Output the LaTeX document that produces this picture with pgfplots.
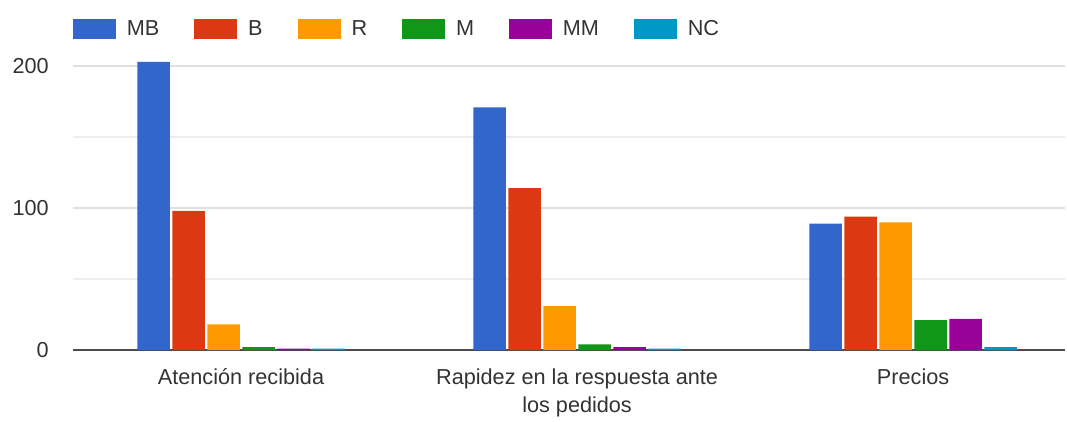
\documentclass[border=0pt]{standalone}
\usepackage{fontspec}
\setmainfont{Liberation Sans}
\usepackage{pgfplots}
\pgfplotsset{compat=1.18}
\definecolor{cMB}{HTML}{3366CC}
\definecolor{cB}{HTML}{DC3912}
\definecolor{cR}{HTML}{FF9900}
\definecolor{cM}{HTML}{109618}
\definecolor{cMM}{HTML}{990099}
\definecolor{cNC}{HTML}{0099C6}
\definecolor{txt}{HTML}{333333}
\begin{document}
\begin{tikzpicture}
\useasboundingbox (-43.8pt,-42.6pt) rectangle (596.4pt,210pt);
\begin{axis}[
  at={(0,0)}, anchor=south west,
  scale only axis, width=595.2pt, height=178.8pt,
  ybar=1.5pt, bar width=19.5pt,
  xmin=-0.5, xmax=2.452, ymin=0, ymax=210,
  xtick={0,1,2},
  xticklabels={Atención recibida, {Rapidez en la respuesta ante\\los pedidos}, Precios},
  xticklabel style={align=center, font=\fontsize{13}{16.8}\selectfont, text=txt, yshift=-3.5pt},
  ytick={100,200}, minor ytick={50,150},
  extra y ticks={0}, extra y tick labels={0},
  extra y tick style={major grid style={draw=black!70, line width=1.2pt}},
  yticklabel style={font=\fontsize{13}{14}\selectfont, text=txt, xshift=-11pt},
  /pgf/number format/assume math mode=true,
  ymajorgrids, yminorgrids,
  major grid style={draw=black!12, line width=1pt},
  minor grid style={draw=black!7, line width=1pt},
  axis line style={draw=none},
  tick style={draw=none},
  legend columns=6,
  legend style={at={(-0.0053,1.13)}, anchor=north west, draw=none, fill=none,
    font=\fontsize{13}{14}\selectfont, text=txt,
    /tikz/every even column/.append style={column sep=19pt}},
  legend image code/.code={\fill[#1] (0pt,-6pt) rectangle (25.8pt,6pt); \path (30.3pt,0pt);},
]
\addplot[fill=cMB, draw=none] coordinates {(0,203) (1,171) (2,89)};
\addplot[fill=cB, draw=none] coordinates {(0,98) (1,114) (2,94)};
\addplot[fill=cR, draw=none] coordinates {(0,18) (1,31) (2,90)};
\addplot[fill=cM, draw=none] coordinates {(0,2) (1,4) (2,21)};
\addplot[fill=cMM, draw=none] coordinates {(0,1) (1,2) (2,22)};
\addplot[fill=cNC, draw=none] coordinates {(0,1) (1,1) (2,2)};
\legend{MB,B,R,M,MM,NC}
\end{axis}
\end{tikzpicture}
\end{document}
